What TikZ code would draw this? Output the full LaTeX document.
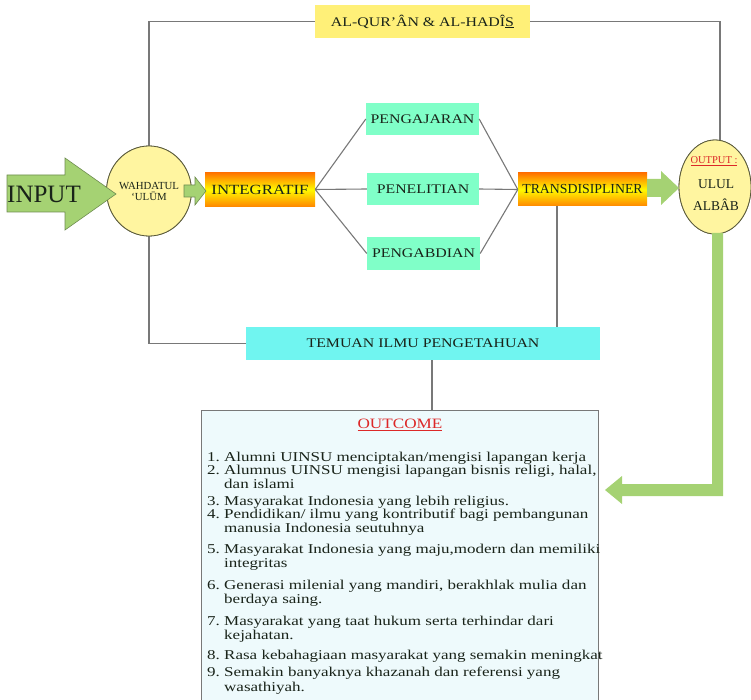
\documentclass[tikz,border=0pt]{standalone}
\usepackage{fontspec}
\setmainfont{Liberation Serif}
\newfontfamily\widefont[FakeStretch=1.2]{Liberation Serif}
\newfontfamily\listfont[FakeStretch=1.26]{Liberation Serif}
\usetikzlibrary{shapes.geometric}
\definecolor{qyellow}{RGB}{255,240,120}
\definecolor{ellyellow}{RGB}{255,245,160}
\definecolor{ellborder}{RGB}{90,90,60}
\definecolor{agreen}{RGB}{165,210,115}
\definecolor{agreenb}{RGB}{110,140,80}
\definecolor{aqua}{RGB}{128,255,200}
\definecolor{cyanbox}{RGB}{112,245,240}
\definecolor{outbg}{RGB}{238,250,252}
\definecolor{linegray}{RGB}{120,120,120}
\definecolor{redtxt}{RGB}{220,40,40}
\definecolor{txt}{RGB}{25,35,25}
\definecolor{gtop}{RGB}{255,115,0}
\definecolor{gmid}{RGB}{255,250,0}
\definecolor{gbot}{RGB}{255,135,0}
\frenchspacing
\begin{document}
\begin{tikzpicture}[x=1pt,y=-1pt,
  conn/.style={draw=linegray, line width=1.1pt},
  plainbox/.style={inner sep=0pt, text=txt},
  labelfont/.style={font=\widefont\fontsize{13.2}{15}\selectfont},
  gradbox/.style={plainbox, top color=gtop, bottom color=gbot, middle color=gmid},
  ellnode/.style={ellipse, draw=ellborder, line width=0.8pt, fill=ellyellow, inner sep=0pt, text=txt, align=center},
  blockarrow/.style={fill=agreen, draw=agreenb, line width=0.6pt},
  listline/.style={anchor=base west, inner sep=0pt, text=txt, font=\listfont\fontsize{13.5}{14}\selectfont}
]
\useasboundingbox (0,0) rectangle (751,700);

% boxes (named, placed first for anchors)
\node[plainbox, fill=qyellow, minimum width=215, minimum height=33, labelfont] (quran) at (422.5,21.5) {AL-QUR’ÂN \& AL-HADÎ\underline{S}};
\node[ellnode, minimum width=70, minimum height=90] (wah) at (149,191) {\fontsize{10.8}{12}\selectfont WAHDATUL\\[-1pt]\fontsize{10.8}{12}\selectfont ‘ULŪM};
\node[ellnode, minimum width=72, minimum height=94] (outp) at (715,187) {};
\node[plainbox, fill=cyanbox, minimum width=354, minimum height=33, labelfont] (temuan) at (423,343.5) {TEMUAN ILMU PENGETAHUAN};
\node[plainbox, draw=linegray, line width=1pt, fill=outbg, minimum width=397, minimum height=292, anchor=north west] (outcome) at (201,410) {};
\node[plainbox, fill=aqua, minimum width=113, minimum height=32, labelfont] (ajar) at (422.5,119) {PENGAJARAN};
\node[plainbox, fill=aqua, minimum width=112, minimum height=32, labelfont] (teliti) at (423,189) {PENELITIAN};
\node[plainbox, fill=aqua, minimum width=113, minimum height=33, labelfont] (abdi) at (423.5,253.5) {PENGABDIAN};
\node[gradbox, minimum width=110, minimum height=34, font=\widefont\fontsize{14}{16}\selectfont] (integ) at (260,189.5) {INTEGRATIF};
\node[gradbox, minimum width=129, minimum height=33, font=\fontsize{13.8}{16}\selectfont] (trans) at (582.5,189.5) {TRANSDISIPLINER};

% connectors
\draw[conn] (wah.center) |- (quran.west);
\draw[conn] (quran.east) -| ([xshift=5pt]outp.center);
\draw[conn] (wah.center) |- (temuan.west);
\draw[conn] ([xshift=-25.5pt]trans.south) -- ([xshift=-25.5pt]trans.south |- temuan.north);
\draw[conn] ([xshift=9pt]temuan.south) -- ([xshift=9pt]temuan.south |- outcome.north);
\draw[conn] (integ.east) -- (ajar.west);
\draw[conn] (integ.east) -- (teliti.west);
\draw[conn] (integ.east) -- (abdi.west);
\draw[conn] (ajar.east) -- (trans.west);
\draw[conn] (teliti.east) -- (trans.west);
\draw[conn] (abdi.east) -- (trans.west);

% redraw shapes that lines run into, on top of the lines
\node[plainbox, fill=qyellow, minimum width=215, minimum height=33, labelfont] at (quran) {AL-QUR’ÂN \& AL-HADÎ\underline{S}};
\node[ellnode, minimum width=70, minimum height=90] at (wah) {\fontsize{10.8}{12}\selectfont WAHDATUL\\[-1pt]\fontsize{10.8}{12}\selectfont ‘ULŪM};
\node[ellnode, minimum width=72, minimum height=94] at (outp) {};
\node[plainbox, fill=cyanbox, minimum width=354, minimum height=33, labelfont] at (temuan) {TEMUAN ILMU PENGETAHUAN};
\node[plainbox, draw=linegray, line width=1pt, fill=outbg, minimum width=397, minimum height=292, anchor=north west] at (201,410) {};

% output text
\node[plainbox, text=redtxt, font=\fontsize{10.5}{12}\selectfont] (outlbl) at (714,161) {\underline{OUTPUT :}};
\node[plainbox, font=\fontsize{13.5}{15}\selectfont] (ulul) at (716,184) {ULUL};
\node[plainbox, font=\fontsize{13.5}{15}\selectfont] (albab) at (716,205) {ALBÂB};

% block arrows
\fill[blockarrow] (7,175) -- (65,175) -- (65,158) -- (116,194) -- (65,230) -- (65,212) -- (7,212) -- cycle;
\node[plainbox, font=\fontsize{25}{28}\selectfont] (input) at (44,194) {INPUT};
\fill[blockarrow] (184,185) -- (195,185) -- (195,177) -- (206,191) -- (195,205) -- (195,197) -- (184,197) -- cycle;
\fill[fill=agreen] (647,179) -- (661,179) -- (661,171) -- (679,188) -- (661,205) -- (661,197) -- (647,197) -- cycle;
\fill[fill=agreen] (712,233) -- (723,233) -- (723,496) -- (622,496) -- (622,504) -- (605,490) -- (622,476) -- (622,484) -- (712,484) -- cycle;

% outcome text
\node[plainbox, text=redtxt, font=\widefont\fontsize{14.3}{16}\selectfont] (otitle) at (400,425) {\underline{OUTCOME}};
\foreach \n/\yy/\xx/\t in {
  a/461/207/{1. Alumni UINSU menciptakan/mengisi lapangan kerja},
  b/474/207/{2. Alumnus UINSU mengisi lapangan bisnis religi, halal,},
  c/488/224/{dan islami},
  d/505/207/{3. Masyarakat Indonesia yang lebih religius.},
  e/518/207/{4. Pendidikan/ ilmu yang kontributif bagi pembangunan},
  f/532/224/{manusia Indonesia seutuhnya},
  g/553/207/{5. Masyarakat Indonesia yang maju,modern dan memiliki},
  h/567/224/{integritas},
  i/589/207/{6. Generasi milenial yang mandiri, berakhlak mulia dan},
  j/603/224/{berdaya saing.},
  k/625/207/{7. Masyarakat yang taat hukum serta terhindar dari},
  l/639/224/{kejahatan.},
  m/659/207/{8. Rasa kebahagiaan masyarakat yang semakin meningkat},
  n/676/207/{9. Semakin banyaknya khazanah dan referensi yang},
  o/691/224/{wasathiyah.}}
  \node[listline] (item\n) at (\xx,\yy) {\t};
\end{tikzpicture}
\end{document}
